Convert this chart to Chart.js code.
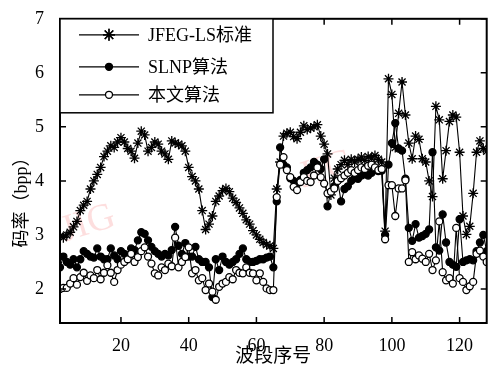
<!DOCTYPE html>
<html>
<head>
<meta charset="utf-8">
<script src="https://cdn.jsdelivr.net/npm/chart.js@4.4.0/dist/chart.umd.min.js"></script>
<style>
  html, body { margin: 0; padding: 0; background: #fff; }
  #wrap { width: 493px; height: 369px; }
</style>
</head>
<body>
<div id="wrap"><canvas id="chart" width="493" height="369"></canvas></div>
<script>
// --- Data (band index 1..128) ---
const jlsRate = [
  2.95, 2.98, 2.95, 3.00, 3.05, 3.15, 3.25, 3.45, 3.55, 3.62,
  3.85, 4.00, 4.12, 4.25, 4.45, 4.55, 4.65, 4.62, 4.72, 4.80,
  4.72, 4.60, 4.55, 4.42, 4.70, 4.92, 4.85, 4.55, 4.62, 4.72,
  4.68, 4.55, 4.50, 4.40, 4.74, 4.70, 4.68, 4.65, 4.55, 4.25,
  4.08, 4.00, 3.85, 3.45, 3.10, 3.20, 3.35, 3.62, 3.72, 3.82,
  3.86, 3.80, 3.68, 3.60, 3.50, 3.40, 3.28, 3.20, 3.08, 3.00,
  2.92, 2.86, 2.82, 2.80, 2.75, 3.85, 4.35, 4.83, 4.88, 4.90,
  4.82, 4.78, 4.90, 5.02, 4.95, 4.98, 5.00, 5.04, 4.83, 4.68,
  4.50, 3.74, 4.05, 4.22, 4.30, 4.38, 4.30, 4.40, 4.35, 4.40,
  4.44, 4.38, 4.45, 4.42, 4.47, 4.40, 4.35, 3.07, 5.89, 5.60,
  4.62, 5.25, 5.83, 5.22, 4.70, 4.41, 4.83, 4.77, 4.41, 4.35,
  4.00, 3.71, 5.38, 5.13, 4.04, 4.56, 5.10, 5.22, 5.18, 4.53,
  3.35, 3.01, 3.16, 3.77, 4.53, 4.74, 4.60, 4.55
];
const slnpRate = [
  2.45, 2.40, 2.60, 2.50, 2.45, 2.55, 2.40, 2.55, 2.70, 2.65,
  2.60, 2.58, 2.75, 2.60, 2.55, 2.55, 2.75, 2.62, 2.55, 2.70,
  2.65, 2.62, 2.75, 2.72, 2.90, 3.05, 3.02, 2.90, 2.78, 2.70,
  2.65, 2.60, 2.65, 2.62, 2.72, 3.15, 2.80, 2.65, 2.85, 2.60,
  2.60, 2.78, 2.55, 2.50, 2.50, 2.40, 1.85, 2.55, 2.35, 2.60,
  2.50, 2.45, 2.50, 2.55, 2.65, 2.75, 2.55, 2.50, 2.50, 2.52,
  2.55, 2.55, 2.58, 2.60, 2.40, 3.62, 4.62, 4.30, 4.25, 4.05,
  4.00, 3.95, 4.02, 4.15, 4.20, 4.25, 4.35, 4.30, 4.22, 4.40,
  3.53, 3.80, 3.90, 4.00, 3.62, 3.85, 3.90, 4.00, 4.05, 4.04,
  4.10, 4.12, 4.10, 4.15, 4.20, 4.18, 4.19, 3.00, 4.30, 4.70,
  5.07, 4.60, 4.56, 4.04, 3.13, 2.89, 3.20, 2.95, 2.98, 3.02,
  3.10, 4.53, 2.77, 2.71, 3.38, 2.86, 2.50, 2.45, 2.41, 3.29,
  2.50, 2.53, 2.55, 2.53, 2.70, 2.86, 3.00, 2.70
];
const oursRate = [
  2.00, 2.00, 2.02, 2.02, 2.10, 2.20, 2.08, 2.22, 2.30, 2.15,
  2.25, 2.20, 2.35, 2.18, 2.30, 2.44, 2.30, 2.13, 2.35, 2.45,
  2.50, 2.55, 2.65, 2.50, 2.59, 2.70, 2.77, 2.60, 2.47, 2.29,
  2.25, 2.40, 2.35, 2.47, 2.42, 2.95, 2.40, 2.50, 2.59, 2.77,
  2.29, 2.35, 2.16, 2.20, 1.98, 2.10, 1.95, 1.80, 2.04, 2.10,
  2.13, 2.22, 2.18, 2.35, 2.30, 2.29, 2.40, 2.30, 2.29, 2.16,
  2.29, 2.13, 2.01, 1.98, 1.98, 3.70, 4.30, 4.44, 4.20, 4.07,
  3.89, 3.83, 3.98, 4.07, 4.00, 3.98, 4.10, 4.25, 4.07, 3.95,
  3.77, 3.80, 3.86, 4.00, 4.05, 4.10, 4.15, 4.20, 4.15, 4.20,
  4.25, 4.22, 4.28, 4.30, 4.25, 4.20, 4.22, 2.92, 3.92, 3.92,
  3.35, 3.86, 3.86, 4.01, 2.50, 2.68, 2.55, 2.62, 2.56, 2.50,
  2.65, 2.35, 2.53, 3.25, 2.31, 2.16, 2.20, 2.10, 3.13, 2.20,
  2.13, 1.98, 2.05, 2.13, 2.65, 2.71, 2.60, 2.50
];
const xTicks = [20, 40, 60, 80, 100, 120];
const yTicks = [2, 3, 4, 5, 6, 7];
const seriesNames = ['JFEG-LS标准', 'SLNP算法', '本文算法'];
const yTitle = '码率（bpp）';

const FONT = "'Liberation Serif', 'Noto Sans CJK SC', serif";

function toPoints(arr) {
  return arr.map((v, i) => ({ x: i + 1, y: v }));
}

const styles = [
  { pointStyle: 'star', radius: 5, bg: '#000' },
  { pointStyle: 'circle', radius: 3.5, bg: '#000' },
  { pointStyle: 'circle', radius: 3.5, bg: '#fff' }
];

// --- Frame with inward ticks on all four sides, legend, y title ---
const framePlugin = {
  id: 'frame',
  afterDatasetsDraw(chart) {
    const { ctx, chartArea: a, scales: { x, y } } = chart;
    ctx.save();
    ctx.strokeStyle = '#000';
    ctx.lineWidth = 1.5;
    ctx.beginPath();
    xTicks.forEach(t => {
      const px = x.getPixelForValue(t);
      ctx.moveTo(px, a.bottom); ctx.lineTo(px, a.bottom - 6);
      ctx.moveTo(px, a.top); ctx.lineTo(px, a.top + 6);
    });
    yTicks.forEach(t => {
      const py = y.getPixelForValue(t);
      ctx.moveTo(a.left, py); ctx.lineTo(a.left + 6, py);
      ctx.moveTo(a.right, py); ctx.lineTo(a.right - 6, py);
    });
    ctx.stroke();
    ctx.lineWidth = 2;
    ctx.strokeRect(a.left, a.top, a.right - a.left, a.bottom - a.top);

    // y axis title, a bit below the middle like the original
    ctx.save();
    ctx.translate(22, 198);
    ctx.rotate(-Math.PI / 2);
    ctx.fillStyle = '#000';
    ctx.font = '18px ' + FONT;
    ctx.textAlign = 'center';
    ctx.textBaseline = 'middle';
    ctx.fillText(yTitle, 0, 0);
    ctx.restore();
    ctx.restore();
  },
  afterDraw(chart) {
    // legend box in the top-left corner
    const { ctx, chartArea: a } = chart;
    const bw = 213, bh = 94;
    ctx.save();
    ctx.fillStyle = '#fff';
    ctx.fillRect(a.left, a.top, bw, bh);
    ctx.strokeStyle = '#000';
    ctx.lineWidth = 1.5;
    ctx.strokeRect(a.left, a.top, bw, bh);
    const rows = [16, 48, 76];
    rows.forEach((dy, i) => {
      const yy = a.top + dy;
      ctx.lineWidth = 1.3;
      ctx.beginPath();
      ctx.moveTo(a.left + 19, yy); ctx.lineTo(a.left + 79, yy);
      ctx.stroke();
      ctx.fillStyle = styles[i].bg;
      ctx.strokeStyle = '#000';
      if (styles[i].pointStyle === 'circle') {
        ctx.beginPath();
        ctx.arc(a.left + 49, yy, styles[i].radius, 0, Math.PI * 2);
        ctx.fill(); ctx.stroke();
      } else {
        Chart.helpers.drawPoint(ctx, {
          pointStyle: 'star', radius: styles[i].radius + 1, borderWidth: 1.4
        }, a.left + 49, yy);
        ctx.stroke();
      }
      ctx.fillStyle = '#000';
      ctx.font = '18px ' + FONT;
      ctx.textBaseline = 'middle';
      ctx.fillText(seriesNames[i], a.left + 88, yy + 1);
    });
    ctx.restore();
  }
};

// --- faint journal watermark ---
const watermarkPlugin = {
  id: 'watermark',
  beforeDatasetsDraw(chart) {
    const { ctx } = chart;
    ctx.save();
    ctx.fillStyle = 'rgba(250, 160, 160, 0.35)';
    ctx.font = '38px ' + FONT;
    ctx.textAlign = 'center';
    ctx.textBaseline = 'middle';
    [[88, 224], [326, 170]].forEach(([cx, cy]) => {
      ctx.save();
      ctx.translate(cx, cy);
      ctx.rotate(-0.3);
      ctx.fillText('JIG', 0, 0);
      ctx.restore();
    });
    ctx.restore();
  }
};

new Chart(document.getElementById('chart'), {
  type: 'line',
  data: {
    datasets: [jlsRate, slnpRate, oursRate].map((arr, i) => ({
      label: seriesNames[i],
      data: toPoints(arr),
      borderColor: '#000',
      borderWidth: 1.1,
      pointStyle: styles[i].pointStyle,
      pointRadius: styles[i].radius,
      pointBackgroundColor: styles[i].bg,
      pointBorderColor: '#000',
      pointBorderWidth: 1.3,
      order: 3 - i,
      tension: 0
    }))
  },
  options: {
    responsive: false,
    animation: false,
    devicePixelRatio: 1,
    layout: { padding: { left: 0, top: 14, right: 3, bottom: 0 } },
    plugins: { legend: { display: false }, tooltip: { enabled: false } },
    scales: {
      x: {
        type: 'linear',
        min: 2,
        max: 128,
        afterBuildTicks: s => { s.ticks = xTicks.map(v => ({ value: v })); },
        afterFit: s => { s.height = 46; },
        grid: { display: false },
        border: { display: false },
        ticks: { color: '#000', padding: 4, font: { family: FONT, size: 18 } },
        title: { display: true, text: '波段序号', color: '#000', padding: { top: 0, bottom: 1 }, font: { family: FONT, size: 19 } }
      },
      y: {
        min: 1.37,
        max: 7,
        afterBuildTicks: s => { s.ticks = yTicks.map(v => ({ value: v })); },
        afterFit: s => { s.width = 60; },
        grid: { display: false },
        border: { display: false },
        ticks: { color: '#000', padding: 8, font: { family: FONT, size: 18 } },
        title: { display: false }
      }
    }
  },
  plugins: [watermarkPlugin, framePlugin]
});
</script>
</body>
</html>
